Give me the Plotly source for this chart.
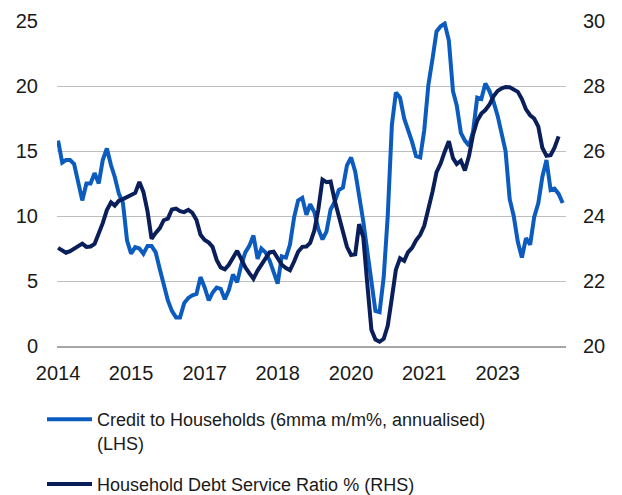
import plotly.graph_objects as go
import pandas as pd

# Monthly data, Jan 2014 onwards
credit_households = [
    15.8, 14.1, 14.3, 14.3, 14.0, 12.7, 11.2, 12.5, 12.5, 13.3,
    12.5, 14.3, 15.2, 13.9, 13.0, 11.7, 11.0, 8.1, 7.1, 7.6,
    7.5, 7.1, 7.7, 7.7, 7.2, 5.9, 4.6, 3.5, 2.7, 2.2,
    2.2, 3.3, 3.7, 3.9, 4.0, 5.3, 4.5, 3.5, 4.1, 4.5,
    4.4, 3.6, 4.3, 5.5, 4.9, 6.2, 7.2, 7.7, 8.5, 6.7,
    7.5, 7.2, 6.6, 5.7, 4.8, 6.9, 6.8, 7.8, 9.9, 11.2,
    11.4, 10.1, 10.9, 10.3, 9.0, 8.2, 8.8, 10.5, 11.1, 12.0,
    12.2, 13.9, 14.5, 13.4, 11.6, 9.6, 7.3, 4.9, 2.7, 2.6,
    5.3, 10.0, 17.0, 19.5, 19.1, 17.5, 16.7, 15.7, 14.6, 14.5,
    16.6, 20.1, 22.1, 24.2, 24.6, 24.8, 23.5, 19.6, 18.5, 16.4,
    15.8, 15.4, 16.5, 19.1, 19.0, 20.2, 19.6, 18.8, 17.7, 16.1,
    15.0, 11.3, 10.0, 8.0, 6.8, 8.3, 7.8, 9.9, 11.0, 13.0,
    14.3, 12.0, 12.1, 11.7, 11.0,
]

debt_service_ratio = [
    23.02, 22.94, 22.87, 22.92, 23.00, 23.08, 23.15, 23.05, 23.06, 23.14,
    23.45, 23.78, 24.18, 24.42, 24.32, 24.47, 24.52, 24.58, 24.64, 24.71,
    25.05, 24.74, 24.14, 23.30, 23.48, 23.63, 23.87, 23.92, 24.20, 24.23,
    24.15, 24.12, 24.19, 24.10, 23.88, 23.42, 23.26, 23.18, 23.05, 22.65,
    22.42, 22.36, 22.50, 22.72, 22.93, 22.68, 22.42, 22.24, 22.07, 22.32,
    22.50, 22.72, 22.88, 22.90, 22.72, 22.50, 22.40, 22.33, 22.60, 22.90,
    23.05, 23.06, 23.17, 23.55, 24.20, 25.12, 25.04, 25.06, 24.47, 24.02,
    23.50, 23.05, 22.80, 22.82, 23.75, 23.35, 21.92, 20.50, 20.20, 20.13,
    20.22, 20.62, 21.48, 22.35, 22.70, 22.62, 22.88, 23.02, 23.25, 23.42,
    23.70, 24.20, 24.75, 25.35, 25.62, 25.98, 26.30, 25.78, 25.60, 25.70,
    25.40, 25.85, 26.50, 26.93, 27.15, 27.26, 27.43, 27.68, 27.85, 27.93,
    27.97, 27.96, 27.90, 27.82, 27.60, 27.28, 27.10, 27.00, 26.75, 26.10,
    25.85, 25.87, 26.10, 26.45,
]

dates_credit = pd.date_range("2014-01-01", periods=len(credit_households), freq="MS")
dates_dsr = pd.date_range("2014-01-01", periods=len(debt_service_ratio), freq="MS")

tick_dates = ["2014-01-01", "2015-07-01", "2017-01-01", "2018-07-01",
              "2020-01-01", "2021-07-01", "2023-01-01"]
tick_labels = ["2014", "2015", "2017", "2018", "2020", "2021", "2023"]

left_ticks = [0, 5, 10, 15, 20, 25]
right_ticks = [20, 22, 24, 26, 28, 30]

name_credit = "Credit to Households (6mma m/m%, annualised)<br>(LHS)"
name_dsr = "Household Debt Service Ratio % (RHS)"

FONT = "Liberation Sans, Arial, sans-serif"

fig = go.Figure()
fig.add_trace(go.Scatter(
    x=dates_credit, y=credit_households, name=name_credit, mode="lines",
    line=dict(color="#0B5CBE", width=4), yaxis="y", legendgroup="credit",
))
fig.add_trace(go.Scatter(
    x=dates_dsr, y=debt_service_ratio, name=name_dsr, mode="lines",
    line=dict(color="#0A1E5A", width=4), yaxis="y2", legendgroup="dsr",
))

fig.update_layout(
    width=622, height=495,
    margin=dict(l=57, r=56, t=21, b=149, autoexpand=False),
    paper_bgcolor="white", plot_bgcolor="white",
    font=dict(family=FONT, size=20, color="#1a1a1a"),
    xaxis=dict(
        type="date",
        range=["2013-12-24", "2024-05-26"],
        tickvals=tick_dates, ticktext=tick_labels,
        showgrid=False, showline=True, linecolor="#a6a6a6", linewidth=2,
        ticks="", ticklabelstandoff=8,
        tickfont=dict(size=20),
        zeroline=False,
    ),
    yaxis=dict(
        range=[0, 25], tickvals=left_ticks,
        showgrid=True, gridcolor="#bfbfbf", gridwidth=1,
        zeroline=False, showline=False, ticks="",
        ticklabelstandoff=18, tickfont=dict(size=20),
    ),
    yaxis2=dict(
        range=[20, 30], tickvals=right_ticks,
        overlaying="y", side="right",
        showgrid=False, zeroline=False, showline=False, ticks="",
        ticklabelstandoff=16, tickfont=dict(size=20),
    ),
    showlegend=True,
    legend=dict(
        orientation="v",
        x=42 / 622, y=1 - 401 / 495, xref="container", yref="container",
        xanchor="left", yanchor="top",
        font=dict(size=18, color="#1a1a1a"),
        valign="top",
        itemwidth=45,
        tracegroupgap=15,
        bgcolor="rgba(0,0,0,0)",
    ),
)

fig.write_html("out.html")
